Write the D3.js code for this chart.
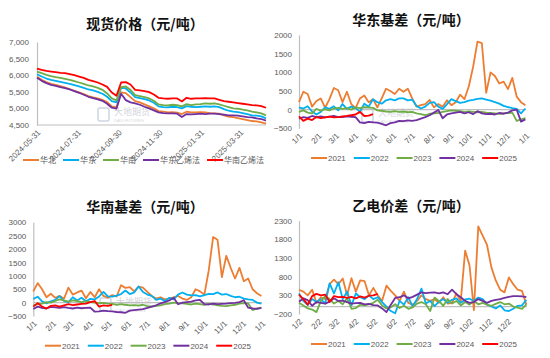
<!DOCTYPE html>
<html>
<head>
<meta charset="utf-8">
<script src="https://cdn.jsdelivr.net/npm/d3@7"></script>
<style>
  body { margin: 0; background: #fff; }
  svg text { font-family: 'Liberation Sans', Arial, sans-serif; }
  .title { font-family: 'Noto Sans CJK SC', sans-serif; font-size: 14px; font-weight: bold; fill: #111; }
  .axis text, .xlabel { font-size: 8px; fill: #595959; }
  .legend text { font-size: 8px; fill: #595959; }
  .legend text.cjk { font-family: 'Noto Sans CJK SC', sans-serif; }
  .mark { font-family: 'Noto Sans CJK SC', sans-serif; fill: #d3d6dc; }
</style>
</head>
<body>
<svg id="chart" width="550" height="358"></svg>
<script>
// ---- data: spot prices (weekly)
const priceDates = [
  '2024-05-31', '2024-06-07', '2024-06-14', '2024-06-21', '2024-06-28', '2024-07-05', '2024-07-12',
  '2024-07-19', '2024-07-26', '2024-08-02', '2024-08-09', '2024-08-16', '2024-08-23', '2024-08-30',
  '2024-09-06', '2024-09-13', '2024-09-20', '2024-09-27', '2024-10-04', '2024-10-11', '2024-10-18',
  '2024-10-25', '2024-11-01', '2024-11-08', '2024-11-15', '2024-11-22', '2024-11-29', '2024-12-06',
  '2024-12-13', '2024-12-20', '2024-12-27', '2025-01-03', '2025-01-10', '2025-01-17', '2025-01-24',
  '2025-01-31', '2025-02-07', '2025-02-14', '2025-02-21', '2025-02-28', '2025-03-07', '2025-03-14',
  '2025-03-21', '2025-03-28', '2025-04-04', '2025-04-11', '2025-04-18', '2025-04-25', '2025-05-02',
  '2025-05-09'
];
const priceNorth = [5950, 5860, 5790, 5740, 5710, 5670, 5630, 5580, 5530, 5480, 5430, 5370, 5330, 5300, 5260, 5190, 5060, 5030, 5480, 5460, 5340, 5220, 5180, 5120, 5060, 5000, 4920, 4900, 4880, 4890, 4870, 4830, 4900, 4880, 4880, 4890, 4880, 4860, 4850, 4840, 4790, 4750, 4740, 4710, 4680, 4650, 4620, 4610, 4580, 4540];
const priceEast = [6030, 5960, 5900, 5860, 5830, 5800, 5770, 5740, 5700, 5660, 5620, 5570, 5540, 5500, 5440, 5350, 5220, 5180, 5620, 5600, 5480, 5340, 5310, 5280, 5240, 5170, 5060, 5040, 5030, 5050, 5040, 5000, 5070, 5050, 5040, 5050, 5060, 5050, 5060, 5040, 4980, 4930, 4900, 4890, 4860, 4830, 4790, 4780, 4760, 4700];
const priceSouth = [6110, 6060, 6010, 5970, 5940, 5920, 5890, 5860, 5820, 5780, 5740, 5690, 5660, 5620, 5560, 5450, 5300, 5240, 5640, 5660, 5560, 5400, 5370, 5340, 5300, 5230, 5120, 5100, 5090, 5110, 5100, 5060, 5130, 5100, 5120, 5130, 5150, 5140, 5150, 5120, 5080, 5040, 5000, 4990, 4960, 4940, 4900, 4880, 4850, 4790];
const priceEastEthylene = [5920, 5830, 5760, 5710, 5680, 5640, 5610, 5570, 5520, 5470, 5410, 5350, 5310, 5270, 5230, 5140, 5020, 4990, 5440, 5250, 5180, 5150, 5110, 5050, 5000, 4940, 4880, 4860, 4850, 4850, 4840, 4740, 4830, 4820, 4830, 4840, 4830, 4840, 4840, 4830, 4810, 4790, 4790, 4780, 4760, 4740, 4730, 4700, 4680, 4630];
const priceSouthEthylene = [6200, 6160, 6130, 6110, 6090, 6070, 6060, 6030, 6000, 5960, 5920, 5860, 5820, 5780, 5720, 5650, 5480, 5380, 5780, 5790, 5720, 5560, 5540, 5520, 5490, 5420, 5320, 5300, 5290, 5300, 5300, 5210, 5320, 5290, 5300, 5300, 5310, 5300, 5300, 5260, 5220, 5200, 5180, 5160, 5140, 5120, 5100, 5090, 5070, 5020];
const priceNames = ['华北', '华东', '华南', '华东乙烯法', '华南乙烯法'];
const priceTicks = ['2024-05-31', '2024-07-31', '2024-09-30', '2024-11-30', '2025-01-31', '2025-03-31'];
const priceYTicks = [4500, 5000, 5500, 6000, 6500, 7000];

// ---- data: seasonal spreads (weekly, day of year)
const weekDay = [0, 7, 14, 21, 28, 35, 42, 49, 56, 63, 70, 77, 84, 91, 98, 105, 112, 119, 126, 133, 140, 147, 154, 161, 168, 175, 182, 189, 196, 203, 210, 217, 224, 231, 238, 245, 252, 259, 266, 273, 280, 287, 294, 301, 308, 315, 322, 329, 336, 343, 350, 357, 364];
const yearNames = ['2021', '2022', '2023', '2024', '2025'];

const eastBasis2021 = [200, 480, 420, 80, 230, 300, 50, 280, 580, 520, 200, 480, 150, 40, 300, 380, 200, 280, 60, 300, 560, 500, 420, 560, 480, 560, 300, 80, 120, 150, 260, 60, 150, 80, 250, 120, 200, 400, 280, 620, 1150, 1820, 1780, 450, 1000, 900, 700, 750, 550, 850, 350, 200, 120];
const eastBasis2022 = [60, 30, 90, -50, -130, -60, 60, 20, 90, -20, 150, 20, 80, 40, -60, 160, 80, 280, 200, 160, 250, 280, 250, 300, 300, 250, 270, 100, 30, 80, 180, 200, 80, 20, 150, 280, 230, 180, 200, 240, 260, 290, 300, 270, 240, 200, 160, 100, 70, 40, 20, -100, 30];
const eastBasis2023 = [-60, -20, -80, -100, 20, -30, 10, -20, 30, 50, 20, 40, 0, 60, 40, 70, 60, 50, -20, -30, -50, -60, -40, -60, -50, -70, -60, -100, -120, -150, -110, -100, -90, -60, -40, -20, -30, -40, -60, -50, -60, -70, -60, -80, -90, -100, -110, -100, -90, -80, -300, -260, -230];
const eastBasis2024 = [-240, -200, -220, -170, -200, -180, -210, -190, -170, -200, -200, -180, -190, -200, -340, -360, -330, -340, -350, -380, -420, -360, -340, -300, -310, -290, -300, -280, -240, -200, -150, -80, -10, -230, -130, -100, -80, -60, -100, -70, -120, -40, -100, -120, -110, -130, -90, -110, -80, -20, 0, -320, -260];
const eastBasis2025 = [-180, -300, -240, -280, -200, -230, -210, -190, -210, -200, -180, -170, -150, -130, -60, -170, -160, -120];

const southBasis2021 = [420, 730, 500, 200, 330, 180, 250, 150, 560, 300, 380, 450, 160, 400, 200, 500, 250, 180, 280, 230, 650, 550, 580, 420, 600, 560, 400, 250, 150, 200, 120, 150, 200, 250, 150, 100, 200, 500, 420, 300, 1200, 2450, 2350, 950, 1750, 1300, 900, 1300, 800, 900, 500, 350, 250];
const southBasis2022 = [140, 220, 50, -30, 50, 100, 240, 60, 20, 200, 80, 180, 50, 140, 120, 230, 400, 230, 220, 260, 320, 450, 320, 380, 600, 400, 300, 250, 100, 150, 50, 180, 120, 300, 380, 300, 270, 280, 230, 280, 330, 320, 380, 300, 320, 250, 200, 220, 150, 120, 100, 0, -40];
const southBasis2023 = [-100, -60, -40, 20, 0, 60, 120, 80, 40, 80, 60, 20, 50, 20, 0, -20, -10, -40, -50, -80, -60, -80, -100, -90, -110, -80, -130, -150, -120, -100, -60, -40, 0, -20, -30, -50, -70, -40, -60, -80, -50, -70, -100, -120, -130, -100, -80, -40, -20, -30, -280, -220, -190];
const southBasis2024 = [-240, -150, -200, -220, -160, -180, -200, -170, -200, -220, -190, -210, -200, -190, -340, -330, -300, -320, -330, -350, -360, -380, -300, -280, -260, -240, -200, -150, -100, -30, 20, 80, 180, -60, 0, 20, 40, 80, 100, -60, -70, -40, -60, -50, -40, -20, -10, 20, 90, -190, -220, -230, -200];
const southBasis2025 = [-150, -20, -150, -220, -120, -100, -150, -100, -60, -90, -70, -50, -40, 20, 60, -150, -100, -120, -80];

const ethElec2021 = [450, 400, 300, 450, 100, 250, 200, 600, 720, 600, 750, 300, 760, 400, 700, 680, 300, 500, 300, 150, 560, 420, 300, 150, 400, 100, 50, 150, 300, 200, 150, 200, 100, 250, 80, 100, 350, 150, 1500, 1100, -100, 2150, 1900, 1650, 1050, 700, 450, 380, 780, 600, 450, 420, 50];
const ethElec2022 = [350, 150, 40, 200, 120, 200, 80, 620, 350, 650, 200, 400, 30, 350, 250, 200, 300, 200, 250, 120, 0, -120, -180, 150, 50, 250, 0, 200, 480, 80, 150, 10, 130, 200, 100, 180, 220, 100, 190, 210, 150, 240, 200, 50, 0, -50, 30, -100, -120, -60, 20, 30, 180];
const ethElec2023 = [100, 30, -50, -80, -150, 150, 280, 200, 80, 150, 60, 220, -60, -40, 50, 30, 60, 100, 180, 30, -50, -20, 60, -40, 20, -60, -20, 80, 120, 60, -120, 240, 150, 20, 200, 80, 150, 30, 120, 50, 150, 60, 100, 50, 20, 70, 120, 60, 80, 0, -30, -60, 60];
const ethElec2024 = [130, 220, 170, 20, 120, 100, 80, 130, 220, 150, 160, 120, 80, 90, 100, 60, 70, 40, 30, -50, -150, 50, 230, 250, 300, 220, 260, 320, 380, 360, 370, 380, 350, 380, 330, 450, 330, 250, 150, 100, 120, 200, 150, 100, 150, 180, 200, 230, 260, 280, 280, 270, 250];
const ethElec2025 = [320, 200, 50, 280, 340, 300, 320, 120, 280, 250, 260, 230, 260, 220, 270, 240, 290, 300, 340];

const monthTicks1 = ['1/1', '2/1', '3/1', '4/1', '5/1', '6/1', '7/1', '8/1', '9/1', '10/1', '11/1', '12/1', '1/1'];
const monthTicks2 = ['1/2', '2/2', '3/2', '4/2', '5/2', '6/2', '7/2', '8/2', '9/2', '10/2', '11/2', '12/2'];

const colors = ['#ED7D31', '#00B0F0', '#70AD47', '#7030A0', '#FF0000'];



const svg = d3.select('#chart');
const parseDate = d3.timeParse('%Y-%m-%d');
const seasonDate = (offset, day) => d3.timeDay.offset(new Date(2021, 0, 1 + offset), day);

const drawPanel = cfg => {
  const g = svg.append('g');
  const x = cfg.x;
  const [x0, x1] = x.range();
  const y = d3.scaleLinear().domain(cfg.yDomain).range([cfg.bottom, cfg.top]);

  g.append('text')
    .attr('class', 'title')
    .attr('x', cfg.titleX)
    .attr('y', cfg.titleY)
    .attr('text-anchor', 'middle')
    .attr('dominant-baseline', 'central')
    .text(cfg.title);

  // faint company watermark
  if (cfg.mark) {
    const [mx, my] = cfg.mark;
    g.append('rect')
      .attr('x', mx).attr('y', my - 9).attr('width', 11).attr('height', 13).attr('rx', 2)
      .attr('fill', 'none').attr('stroke', '#cdd6e4').attr('stroke-width', 1.5);
    g.append('text').attr('class', 'mark').attr('x', mx + 16).attr('y', my - 2)
      .style('font-size', '9px').text('大地期货');
    g.append('text').attr('class', 'mark').attr('x', mx + 16).attr('y', my + 5)
      .style('font-size', '4px').style('font-family', 'Liberation Sans').text('DADI FUTURES');
  }

  g.append('g')
    .attr('class', 'axis')
    .attr('transform', `translate(${x0},0)`)
    .call(d3.axisLeft(y).tickValues(cfg.yTicks).tickSize(0).tickSizeOuter(0)
      .tickPadding(cfg.yPad).tickFormat(cfg.yFormat))
    .call(a => a.select('.domain').attr('stroke', '#BFBFBF').attr('stroke-width', 1.2));

  g.append('line')
    .attr('x1', x0).attr('x2', x1)
    .attr('y1', y(cfg.base)).attr('y2', y(cfg.base))
    .attr('stroke', '#BFBFBF')
    .attr('stroke-width', 1.2);

  g.selectAll('.xlabel')
    .data(cfg.xTicks)
    .enter().append('text')
    .attr('class', 'xlabel')
    .attr('text-anchor', 'end')
    .attr('dy', '0.35em')
    .attr('transform', d => `translate(${x(d.date) + 2},${cfg.bottom + 6}) rotate(-45)`)
    .text(d => d.label);

  const line = d3.line()
    .x(d => x(d.date))
    .y(d => y(d.value));

  cfg.series.forEach((s, i) => {
    g.append('path')
      .datum(s.values.map((v, j) => ({ date: cfg.dates[j], value: v })))
      .attr('d', line)
      .attr('fill', 'none')
      .attr('stroke', colors[i])
      .attr('stroke-width', 1.8)
      .attr('stroke-linejoin', 'round');
  });

  // legend
  const legend = g.append('g').attr('class', 'legend');
  let lx = cfg.legendX;
  cfg.series.forEach((s, i) => {
    legend.append('line')
      .attr('x1', lx).attr('x2', lx + 16)
      .attr('y1', cfg.legendY).attr('y2', cfg.legendY)
      .attr('stroke', colors[i]).attr('stroke-width', 2);
    const t = legend.append('text')
      .attr('class', cfg.legendCjk ? 'cjk' : null)
      .attr('x', lx + 17)
      .attr('y', cfg.legendY)
      .attr('dy', '0.35em')
      .text(s.name);
    lx += 17 + t.node().getComputedTextLength() + cfg.legendGap;
  });
};



// Spot prices
drawPanel({
  title: '现货价格（元/吨）', titleX: 145, titleY: 23,
  x: d3.scaleTime().domain([parseDate('2024-05-31'), parseDate('2025-05-09')]).range([37, 266]),
  top: 42, bottom: 125, yDomain: [4500, 7000], yTicks: priceYTicks, yFormat: d3.format(','), yPad: 8,
  base: 4500,
  dates: priceDates.map(parseDate),
  xTicks: priceTicks.map(label => ({ label, date: parseDate(label) })),
  series: [priceNorth, priceEast, priceSouth, priceEastEthylene, priceSouthEthylene]
    .map((values, i) => ({ name: priceNames[i], values })),
  legendX: 23, legendY: 160, legendGap: 7, legendCjk: true,
  mark: [98, 117]
});

// East China basis
drawPanel({
  title: '华东基差（元/吨）', titleX: 411, titleY: 18.5,
  x: d3.scaleTime().domain([new Date(2021, 0, 1), new Date(2022, 0, 1)]).range([299, 526]),
  top: 35, bottom: 128.3, yDomain: [-500, 2000], yTicks: [-500, 0, 500, 1000, 1500, 2000], yFormat: d3.format('d'), yPad: 7,
  base: 0,
  dates: weekDay.map(d => seasonDate(0, d)),
  xTicks: monthTicks1.map((label, i) => ({ label, date: new Date(2021, i, 1) })),
  series: [eastBasis2021, eastBasis2022, eastBasis2023, eastBasis2024, eastBasis2025]
    .map((values, i) => ({ name: yearNames[i], values })),
  legendX: 311, legendY: 158, legendGap: 8,
  mark: [362, 118]
});

// South China basis
drawPanel({
  title: '华南基差（元/吨）', titleX: 145, titleY: 205.5,
  x: d3.scaleTime().domain([new Date(2021, 0, 1), new Date(2022, 0, 1)]).range([33.3, 262]),
  top: 222.3, bottom: 316, yDomain: [-500, 3000], yTicks: [-500, 0, 500, 1000, 1500, 2000, 2500, 3000], yFormat: d3.format('d'), yPad: 7,
  base: 0,
  dates: weekDay.map(d => seasonDate(0, d)),
  xTicks: monthTicks1.map((label, i) => ({ label, date: new Date(2021, i, 1) })),
  series: [southBasis2021, southBasis2022, southBasis2023, southBasis2024, southBasis2025]
    .map((values, i) => ({ name: yearNames[i], values })),
  legendX: 45, legendY: 345.7, legendGap: 8,
  mark: [100, 307]
});

// Ethylene vs carbide spread
drawPanel({
  title: '乙电价差（元/吨）', titleX: 411, titleY: 205,
  x: d3.scaleTime().domain([new Date(2021, 0, 2), new Date(2022, 0, 2)]).range([299, 527]),
  top: 220.7, bottom: 314, yDomain: [-200, 2300], yTicks: [-200, 300, 800, 1300, 1800, 2300], yFormat: d3.format('d'), yPad: 7,
  base: 0,
  dates: weekDay.map(d => seasonDate(1, d)),
  xTicks: monthTicks2.map((label, i) => ({ label, date: new Date(2021, i, 2) })),
  series: [ethElec2021, ethElec2022, ethElec2023, ethElec2024, ethElec2025]
    .map((values, i) => ({ name: yearNames[i], values })),
  legendX: 311, legendY: 344, legendGap: 8
});
</script>
</body>
</html>
